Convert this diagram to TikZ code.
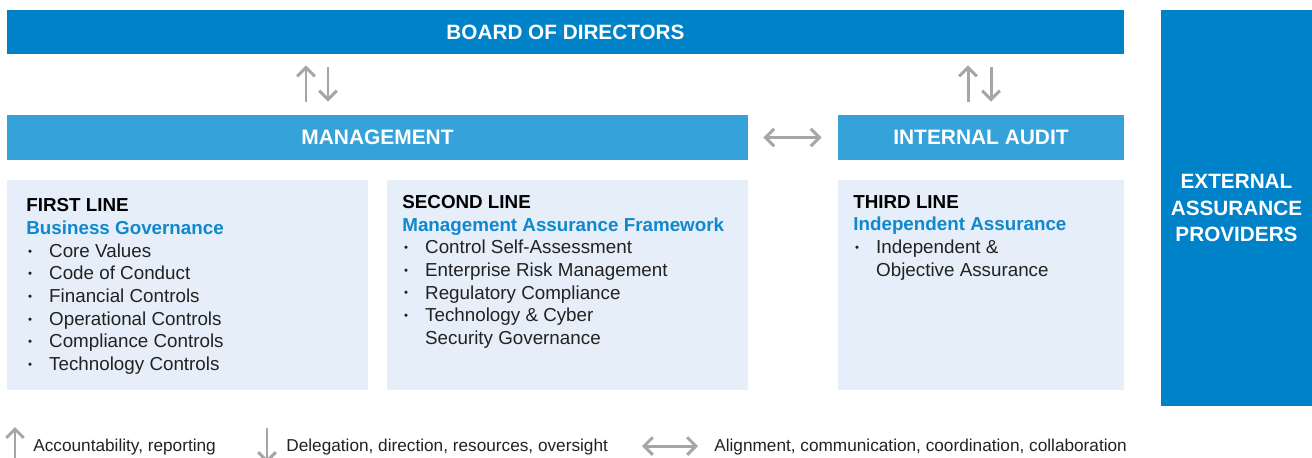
\documentclass[tikz,border=0pt]{standalone}
\usepackage{fontspec}
\setmainfont{Liberation Sans}
\usetikzlibrary{arrows.meta}

\definecolor{boardblue}{HTML}{0082C8}
\definecolor{mgmtblue}{HTML}{35A2DA}
\definecolor{linefill}{HTML}{E6EEF9}
\definecolor{headblue}{HTML}{0F88CD}
\definecolor{flowgray}{HTML}{A6A6A6}
\definecolor{itemtext}{HTML}{222222}

\newcommand{\itemdot}{\makebox[13pt][l]{\hspace{1pt}\raisebox{1.3pt}{\fontsize{6.5}{6.5}\selectfont\textbullet}}}
\newcommand{\itemgap}{\hspace*{13pt}}

\begin{document}
\begin{tikzpicture}[x=0.02cm,y=-0.02cm,>={Straight Barb[length=5pt,width=10pt]},
  flow/.style={draw=flowgray,line width=1.7pt},
  topbar/.style={fill=boardblue,text=white,inner sep=0pt,font=\bfseries\fontsize{11.8}{15}\selectfont},
  unitbar/.style={fill=mgmtblue,text=white,inner sep=0pt,minimum height=0.9cm,font=\bfseries\fontsize{11.9}{14}\selectfont},
  linebox/.style={fill=linefill,inner sep=0pt,minimum height=4.2cm},
  linetext/.style={anchor=north west,inner sep=0pt,align=left,text=itemtext,font=\fontsize{10.7}{12.9}\selectfont},
  legend/.style={anchor=west,inner sep=0pt,text=itemtext,font=\fontsize{9.8}{12}\selectfont}]
  \useasboundingbox[fill=white] (0,0) rectangle (1312,457);

  % top level
  \node[topbar,minimum width=22.34cm,minimum height=0.88cm] (board) at (565.5,32) {BOARD OF DIRECTORS};
  \node[topbar,minimum width=3.02cm,minimum height=7.92cm,align=center] (extern) at (1236.5,208) {EXTERNAL\\ASSURANCE\\PROVIDERS};

  % management / internal audit
  \node[unitbar,minimum width=14.82cm] (mgmt) at (377.5,137.5) {MANAGEMENT};
  \node[unitbar,minimum width=5.72cm] (audit) at (981,137.5) {INTERNAL AUDIT};

  % the three lines
  \node[linebox,minimum width=7.22cm] (first) at (187.5,285) {};
  \node[linebox,minimum width=7.22cm] (second) at (567.5,285) {};
  \node[linebox,minimum width=5.72cm] (third) at (981,285) {};

  \node[linetext] (firsttxt) at (26,198.5) {%
    \textbf{\color{black}FIRST LINE}\\
    \textbf{\color{headblue}Business Governance}\\
    \itemdot Core Values\\
    \itemdot Code of Conduct\\
    \itemdot Financial Controls\\
    \itemdot Operational Controls\\
    \itemdot Compliance Controls\\
    \itemdot Technology Controls};
  \node[linetext] (secondtxt) at (402,195) {%
    \textbf{\color{black}SECOND LINE}\\
    \textbf{\color{headblue}Management Assurance Framework}\\
    \itemdot Control Self-Assessment\\
    \itemdot Enterprise Risk Management\\
    \itemdot Regulatory Compliance\\
    \itemdot Technology \& Cyber\\
    \itemgap Security Governance};
  \node[linetext] (thirdtxt) at (853,195) {%
    \textbf{\color{black}THIRD LINE}\\
    \textbf{\color{headblue}Independent Assurance}\\
    \itemdot Independent \&\\
    \itemgap Objective Assurance};

  % reporting lines
  \coordinate (mgmtup) at (306,0);
  \coordinate (mgmtdown) at (328,0);
  \coordinate (auditup) at (968,0);
  \coordinate (auditdown) at (991,0);
  \draw[flow,->,shorten <=0.26cm,shorten >=0.22cm] (mgmt.north -| mgmtup) -- (board.south -| mgmtup);
  \draw[flow,->,shorten <=0.26cm,shorten >=0.26cm] (board.south -| mgmtdown) -- (mgmt.north -| mgmtdown);
  \draw[flow,->,shorten <=0.26cm,shorten >=0.22cm] (audit.north -| auditup) -- (board.south -| auditup);
  \draw[flow,->,shorten <=0.26cm,shorten >=0.26cm] (board.south -| auditdown) -- (audit.north -| auditdown);
  \draw[flow,<->,shorten <=0.3cm,shorten >=0.32cm] (mgmt.east) -- (audit.west);

  % legend
  \coordinate (legupa) at (15,470);
  \coordinate (legupb) at (15,427);
  \coordinate (legdowna) at (267,428);
  \coordinate (legdownb) at (267,463);
  \coordinate (legbotha) at (642,446);
  \coordinate (legbothb) at (698,446);
  \draw[flow,->] (legupa) -- (legupb);
  \draw[flow,->] (legdowna) -- (legdownb);
  \draw[flow,<->] (legbotha) -- (legbothb);
  \node[legend] (legup) at (33,447.5) {Accountability, reporting};
  \node[legend] (legdown) at (286,447.5) {Delegation, direction, resources, oversight};
  \node[legend] (legboth) at (714,447.5) {Alignment, communication, coordination, collaboration};
\end{tikzpicture}
\end{document}
